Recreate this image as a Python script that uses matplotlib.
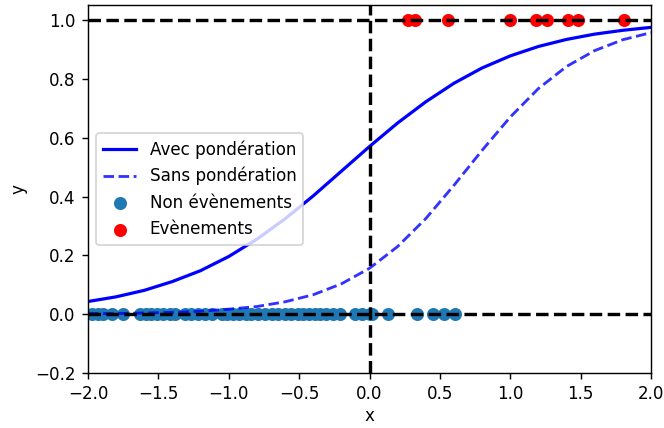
import matplotlib.pyplot as plt
import numpy as np

# probabilités estimées sur une grille de x
x_grid = np.linspace(-2, 2, 21)
p_avec = [0.043, 0.059, 0.081, 0.111, 0.148, 0.196, 0.255, 0.324, 0.402, 0.486,
          0.570, 0.650, 0.722, 0.785, 0.837, 0.878, 0.910, 0.934, 0.952, 0.965, 0.975]
p_sans = [0.002, 0.002, 0.004, 0.006, 0.010, 0.017, 0.026, 0.042, 0.066, 0.103,
          0.156, 0.230, 0.325, 0.438, 0.557, 0.670, 0.767, 0.842, 0.896, 0.933, 0.957]

# observations
x_non_evt = [-1.97, -1.93, -1.89, -1.83, -1.75,
             -1.63, -1.59, -1.55, -1.51, -1.47, -1.42, -1.38,
             -1.31, -1.27, -1.22, -1.17, -1.12,
             -1.05, -1.01, -0.97, -0.93, -0.88, -0.84, -0.79, -0.74,
             -0.69, -0.65, -0.60, -0.56, -0.51, -0.47, -0.43, -0.39, -0.35, -0.31, -0.26, -0.21,
             -0.10, -0.05, 0.00, 0.02, 0.13, 0.34, 0.45, 0.53, 0.61]
x_evt = [0.27, 0.32, 0.56, 1.00, 1.18, 1.26, 1.41, 1.48, 1.81]

plt.rcParams['font.size'] = 9.4

fig = plt.figure(figsize=(664 / 128, 428 / 128), dpi=128)
ax = fig.add_axes([88 / 664, 55 / 428, 563 / 664, 367.7 / 428])

ax.plot(x_grid, p_avec, 'b-', lw=1.8, label='Avec pondération')
ax.plot(x_grid, p_sans, 'b--', lw=1.6, alpha=0.8, label='Sans pondération')
ax.scatter(x_non_evt, np.zeros(len(x_non_evt)), s=40, label='Non évènements')
ax.scatter(x_evt, np.ones(len(x_evt)), s=40, c='r', label='Evènements')

ax.axhline(0, color='k', linestyle='--', lw=1.9)
ax.axhline(1, color='k', linestyle='--', lw=1.9)
ax.axvline(0, color='k', linestyle='--', lw=1.9)

ax.set_xlim(-2, 2)
ax.set_ylim(-0.2, 1.05)
ax.set_xlabel('x', labelpad=2)
ax.set_ylabel('y')
ax.legend(loc='center left')

fig.savefig('out.png', dpi=128)
